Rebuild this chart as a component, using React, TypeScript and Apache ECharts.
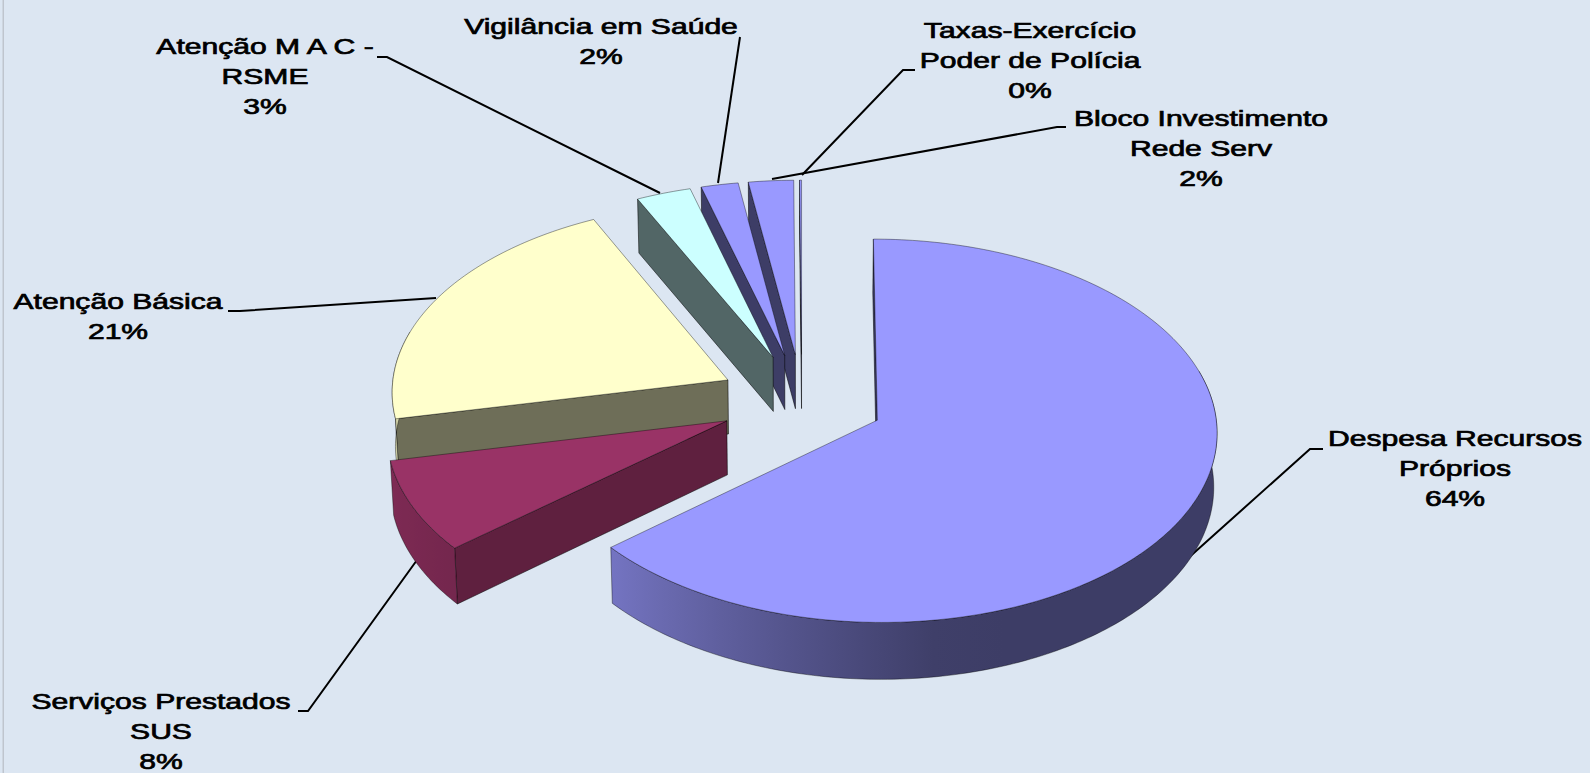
import React, { useEffect, useRef } from "react";
import * as echarts from "echarts";

const categories = [
  "Despesa Recursos\nPróprios",
  "Serviços Prestados\nSUS",
  "Atenção Básica",
  "Atenção M A C -\nRSME",
  "Vigilância em Saúde",
  "Taxas-Exercício\nPoder de Polícia",
  "Bloco Investimento\nRede Serv",
];
// slice order around the pie, clockwise from 12 o'clock
const sliceOrder = [0, 1, 2, 3, 4, 6, 5];
const values = [63.9, 7.8, 21.2, 2.8, 1.9, 0.1, 2.3];
const topColors = ["#9999FF", "#993366", "#FFFFCC", "#CCFFFF", "#9999FF", "#9999FF", "#9999FF"];
const faceShades = [0.4, 0.62, 0.43, 0.4, 0.4, 0.4, 0.4];

const labelAnchors = [
  [1455, 469],
  [161, 732],
  [118, 317],
  [265, 77],
  [601, 42],
  [1030, 61],
  [1201, 149],
];
const leaderLines = [
  [[1323, 449], [1310, 449], [1186, 560]],
  [[298, 711], [308, 711], [417, 560]],
  [[228, 311], [240, 311], [436, 298]],
  [[377, 57], [387, 57], [660, 193]],
  [[740, 37], [718, 183]],
  [[915, 70], [903, 70], [802, 175]],
  [[1066, 127], [1057, 127], [772, 179]],
];

const CX = 801.8;
const CY = 400.4;
const RX = 337;
const RY = 188.9;
const PERSP = 0.055;
const EXPLODE = 0.246;
const rad = (d: number) => (d * Math.PI) / 180;

const total = values.reduce((a, b) => a + b, 0);
const arcs: Record<number, [number, number]> = {};
let cursor = 0;
sliceOrder.forEach((i) => {
  const sweep = (values[i] / total) * 360;
  arcs[i] = [cursor, cursor + sweep];
  cursor += sweep;
});

function shade(hex: string, k: number) {
  const n = parseInt(hex.slice(1), 16);
  const c = [(n >> 16) & 255, (n >> 8) & 255, n & 255].map((v) => Math.round(v * k));
  return `rgb(${c[0]},${c[1]},${c[2]})`;
}
function rimShade(t: number) {
  if (t <= 170) return 0.4;
  if (t <= 230) return 0.4 + ((t - 170) / 60) * 0.36;
  return Math.min(0.86, 0.76 + ((t - 230) / 40) * 0.1);
}

function renderSlice(_params: any, api: any) {
  const idx = api.value(0);
  const [a0, a1] = arcs[idx];
  const mid = rad((a0 + a1) / 2);
  const ex = EXPLODE * Math.sin(mid);
  const ey = EXPLODE * Math.cos(mid);
  const top = (X: number, Y: number) => {
    const f = 1 / (1 + PERSP * Y);
    return [CX + RX * X * f, CY - RY * Y * f];
  };
  const down = (X: number, Y: number) => {
    const p = top(X, Y);
    const t = 54 - 2.9 * Math.min(0, Y + 0.1);
    return [CX + (p[0] - CX) * 0.992, p[1] + t];
  };
  const rimXY = (deg: number) => [ex + Math.sin(rad(deg)), ey + Math.cos(rad(deg))];
  const base = topColors[idx];
  const dark = shade(base, faceShades[idx]);
  const children: any[] = [];
  const line = "rgba(0,0,0,0.65)";

  // radial face on the leading edge
  if (Math.sin(rad(a0)) <= 1e-6) {
    const r = rimXY(a0);
    children.push({
      type: "polygon",
      shape: { points: [top(ex, ey), top(r[0], r[1]), down(r[0], r[1]), down(ex, ey)] },
      style: { fill: dark, stroke: line, lineWidth: 0.8 },
    });
  }
  // outer wall, only the part that faces the viewer
  const wa = Math.max(a0, 75);
  const wb = Math.min(a1, 285);
  if (wb > wa) {
    const up: number[][] = [];
    const lo: number[][] = [];
    for (let t = wa; ; t += 1) {
      const d = Math.min(t, wb);
      const r = rimXY(d);
      up.push(top(r[0], r[1]));
      lo.push(down(r[0], r[1]));
      if (d >= wb) break;
    }
    const ga = Math.max(a0, 90);
    const gb = Math.min(a1, 270);
    const xs: [number, number][] = [];
    for (let k = 0; k <= 12; k++) {
      const d = ga + ((gb - ga) * k) / 12;
      const r = rimXY(d);
      xs.push([top(r[0], r[1])[0], rimShade(d)]);
    }
    xs.sort((p, q) => p[0] - q[0]);
    const x0 = xs[0][0];
    const x1 = xs[xs.length - 1][0];
    const stops = xs.map(([x, k]) => ({ offset: (x - x0) / (x1 - x0), color: shade(base, k) }));
    children.push({
      type: "polygon",
      shape: { points: up.concat(lo.reverse()) },
      style: {
        fill: new echarts.graphic.LinearGradient(x0, 0, x1, 0, stops, true),
        stroke: line,
        lineWidth: 0.6,
      },
    });
  }
  // top surface
  const pts: number[][] = [top(ex, ey)];
  for (let t = a0; ; t += 1) {
    const d = Math.min(t, a1);
    const r = rimXY(d);
    pts.push(top(r[0], r[1]));
    if (d >= a1) break;
  }
  children.push({
    type: "polygon",
    shape: { points: pts },
    style: { fill: base, stroke: "rgba(0,0,0,0.55)", lineWidth: 0.7 },
  });
  return { type: "group", children };
}

const drawOrder = [...sliceOrder].reverse();

export default function App() {
  const ref = useRef<HTMLDivElement>(null);
  useEffect(() => {
    document.body.style.margin = "0";
    const chart = echarts.init(ref.current!, undefined, { renderer: "svg" });
    const labels = categories.map((c, i) => ({
      type: "text",
      x: labelAnchors[i][0],
      y: labelAnchors[i][1],
      scaleX: 1.4,
      style: {
        text: `${c}\n${Math.round(values[i])}%`,
        x: 0,
        y: 0,
        align: "center",
        verticalAlign: "middle",
        lineHeight: 30,
        fontFamily: "Liberation Sans",
        fontSize: 21.5,
        fill: "#000",
        stroke: "#000",
        lineWidth: 0.7,
      },
    }));
    const leaders = leaderLines.map((pts) => ({
      type: "polyline",
      shape: { points: pts },
      style: { stroke: "#000", lineWidth: 2, fill: "none" },
    }));
    const frame = {
      type: "rect",
      shape: { x: 2.5, y: 0, width: 1.5, height: 773 },
      style: { fill: "#BFC5CE" },
    };
    chart.setOption({
      animation: false,
      backgroundColor: "#DCE6F2",
      graphic: [frame, ...leaders, ...labels],
      series: [
        {
          type: "custom",
          coordinateSystem: "none",
          silent: true,
          data: drawOrder.map((i) => [i, values[i]]),
          renderItem: renderSlice,
        },
      ],
    });
    return () => chart.dispose();
  }, []);
  return <div ref={ref} style={{ width: 1590, height: 773 }} />;
}
